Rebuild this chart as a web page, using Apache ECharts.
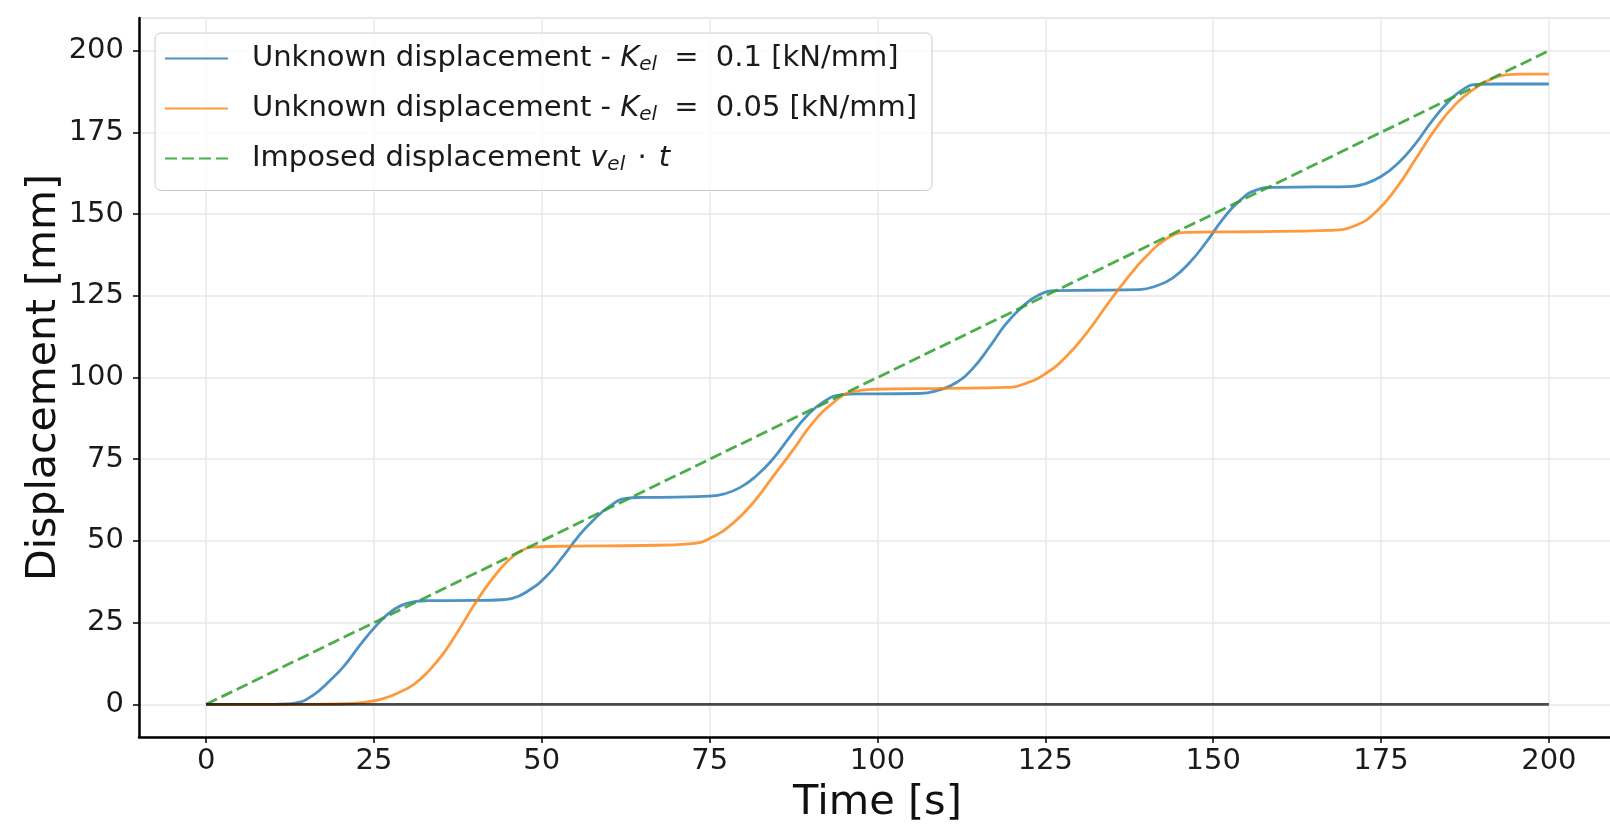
<!DOCTYPE html>
<html>
<head>
<meta charset="utf-8">
<script src="https://cdn.jsdelivr.net/npm/echarts@6/dist/echarts.min.js"></script>
<style>
html,body{margin:0;padding:0;background:#fff;}
#chart{width:1610px;height:828px;}
</style>
</head>
<body>
<div id="chart"></div>
<script>
// ---- data ----
const xTicks = [0, 25, 50, 75, 100, 125, 150, 175, 200];
const yTicks = [0, 25, 50, 75, 100, 125, 150, 175, 200];

const seriesNames = [
  'Unknown displacement - K_el = 0.1 [kN/mm]',
  'Unknown displacement - K_el = 0.05 [kN/mm]',
  'Imposed displacement v_el · t'
];

// Unknown displacement, K_el = 0.1 kN/mm  [time s, displacement mm]
const dispK01 = [
  [0,0],[5,0],[10,0],[12,0.1],[13.6,0.5],[16,2.9],[18.3,7.0],[20.5,11.6],[22.8,17.8],
  [25.0,23.3],[27.0,27.5],[29.0,30.2],[31,31.4],[33,31.7],[40,31.8],[44,32.0],
  [45.6,32.4],[48.1,34.9],[50.6,39.0],[53.1,45.1],[55.6,51.8],[57.6,56.2],[60,60.4],
  [62.5,63.0],[65,63.3],[70,63.4],[74.9,63.7],[77,64.3],[79.5,66.3],[82,70.0],[84.4,75.0],
  [87.0,82.0],[89.5,88.3],[92,92.6],[94.5,94.7],[97,95.0],[100,95.0],[106.2,95.1],[109.2,96.2],
  [111.7,98.4],[114.2,102.8],[116.7,109.4],[119.1,116.3],[121.6,121.7],[124.1,125.3],
  [126.6,126.6],[132,126.7],[139,126.9],[141.5,128.0],[144,130.5],[146.5,135.2],
  [149.0,141.5],[151.5,148.6],[154.0,154.2],[156.5,157.4],[159,158.2],[165,158.3],[170.3,158.4],
  [172.5,159.2],[175.0,161.5],[177.5,165.5],[180.0,171.2],[182.5,178.2],[185.0,184.3],[187.4,188.4],
  [189.5,189.7],[192,189.8],[200,189.8]
];

// Unknown displacement, K_el = 0.05 kN/mm
const dispK005 = [
  [0,0],[10,0],[20,0.1],[24.3,0.8],[26.5,1.8],[28.5,3.4],[31,6.2],[33.2,10.3],[35.5,16.0],
  [37.7,23.0],[40.2,31.3],[42.7,38.6],[45.0,44.0],[47.2,47.2],[49.1,48.2],[55,48.4],
  [65,48.6],[72.5,49.2],[75.4,51.2],[78.4,55.3],[81.4,61.5],[84.4,69.6],[87.4,77.8],
  [90.3,86.0],[93.3,92.1],[96.3,95.7],[99.8,96.4],[110,96.7],[119.1,97.0],[122.1,98.2],
  [125.1,101.3],[128.1,106.4],[131.1,113.5],[134.0,121.7],[137.0,129.9],[140.0,137.0],
  [143.0,142.4],[146.0,144.4],[155,144.6],[167.3,145.0],[171.3,146.6],[174.3,150.8],
  [177.3,158.0],[180.2,167.0],[183.2,176.3],[186.2,183.8],[189.2,188.8],[191.4,191.3],
  [193.6,192.6],[196,192.8],[200,192.8]
];

// Imposed displacement v_el * t
const imposed = [[0,0],[200,200]];

// zero reference line
const zeroLine = [[0,0],[200,0]];

// ---- chart ----
const FONT = 'DejaVu Sans';
const chart = echarts.init(document.getElementById('chart'), null, {renderer:'canvas'});

const LFS = 29;
const baseText = {fontFamily: FONT, fontSize: LFS, color: '#1a1a1a', lineHeight: 32};
const rich = {
  f: Object.assign({}, baseText, {padding: [0,0,0,19]}),
  n: Object.assign({}, baseText),
  e: Object.assign({}, baseText, {padding: [0,8,0,8]}),
  d: Object.assign({}, baseText, {padding: [0,3,0,3]}),
  i: Object.assign({}, baseText, {fontStyle: 'italic'}),
  s: {fontFamily: FONT, fontSize: 20, fontStyle: 'italic', color: '#1a1a1a', lineHeight: 11, verticalAlign: 'bottom'}
};
const legendRich = {};
legendRich[seriesNames[0]] = '{f|Unknown displacement - }{i|K}{s|el}{e| = }{n|0.1 [kN/mm]}';
legendRich[seriesNames[1]] = '{f|Unknown displacement - }{i|K}{s|el}{e| = }{n|0.05 [kN/mm]}';
legendRich[seriesNames[2]] = '{f|Imposed displacement }{i|v}{s|el}{d| · }{i|t}';

const option = {
  animation: false,
  backgroundColor: '#ffffff',
  grid: {
    left: 139, right: -6, top: 18, bottom: 91,
    containLabel: false, outerBoundsMode: 'none',
    show: true, borderColor: '#cfcfcf', borderWidth: 1, backgroundColor: 'transparent'
  },
  legend: {
    orient: 'vertical',
    left: 155, top: 33,
    padding: [11, 15, 16, 9],
    itemWidth: 63, itemHeight: 20, itemGap: 19.5,
    backgroundColor: 'rgba(255,255,255,0.8)',
    borderColor: '#cccccc', borderWidth: 1, borderRadius: 6,
    data: seriesNames,
    itemStyle: {color: 'rgba(0,0,0,0)', borderColor: 'rgba(0,0,0,0)', borderWidth: 0, opacity: 0},
    formatter: function (name) { return legendRich[name]; },
    textStyle: {fontFamily: FONT, fontSize: LFS, color: '#1a1a1a', rich: rich},
    selectedMode: false
  },
  xAxis: {
    type: 'value', min: -10, max: 210,
    name: 'Time [s]', nameLocation: 'middle', nameGap: 45, nameMoveOverlap: false,
    nameTextStyle: {fontFamily: FONT, fontSize: 41.5, color: '#111'},
    axisLine: {show: true, onZero: false, lineStyle: {color: '#000', width: 2.5}},
    axisTick: {show: true, length: 6, lineStyle: {color: '#000', width: 1.5}, customValues: xTicks},
    axisLabel: {fontFamily: FONT, fontSize: 29, color: '#1a1a1a', margin: 10, customValues: xTicks},
    splitLine: {show: true, lineStyle: {color: '#e8e8e8', width: 1.5}},
    minorTick: {show: false}
  },
  yAxis: {
    type: 'value', min: -10, max: 210,
    name: 'Displacement [mm]', nameLocation: 'middle', nameGap: 74, nameMoveOverlap: false,
    nameTextStyle: {fontFamily: FONT, fontSize: 41, color: '#111'},
    axisLine: {show: true, onZero: false, lineStyle: {color: '#000', width: 2.5}},
    axisTick: {show: true, length: 6, lineStyle: {color: '#000', width: 1.5}, customValues: yTicks},
    axisLabel: {fontFamily: FONT, fontSize: 29, color: '#1a1a1a', margin: 15, customValues: yTicks},
    splitLine: {show: true, lineStyle: {color: '#e8e8e8', width: 1.5}}
  },
  series: [
    {
      name: seriesNames[0], type: 'line', data: dispK01, symbol: 'none', smooth: 0.5,
      lineStyle: {color: '#1f77b4', width: 2.8, opacity: 0.8}, itemStyle: {color: '#1f77b4', opacity: 0.8}, z: 2
    },
    {
      name: seriesNames[1], type: 'line', data: dispK005, symbol: 'none', smooth: 0.5,
      lineStyle: {color: '#ff7f0e', width: 2.8, opacity: 0.8}, itemStyle: {color: '#ff7f0e', opacity: 0.8}, z: 3
    },
    {
      name: seriesNames[2], type: 'line', data: imposed, symbol: 'none',
      lineStyle: {color: '#2ca02c', width: 2.8, type: [12, 5], opacity: 0.85}, itemStyle: {color: '#2ca02c', opacity: 0.85}, z: 4
    },
    {
      name: 'zero', type: 'line', data: zeroLine, symbol: 'none',
      lineStyle: {color: '#000', width: 2.8, opacity: 0.7}, itemStyle: {color: '#000'}, z: 5
    }
  ]
};
chart.setOption(option);
</script>
</body>
</html>
